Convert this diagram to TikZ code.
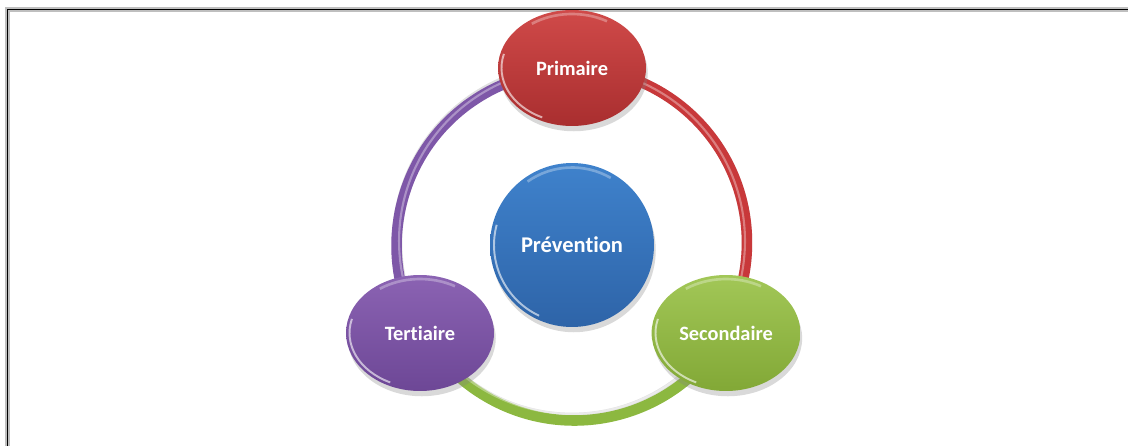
\documentclass[tikz,border=0pt]{standalone}
\usepackage{fontspec}
\setmainfont{Carlito}[Ligatures=NoCommon]
\usetikzlibrary{shapes.geometric,shadows,backgrounds,calc}

\definecolor{primtop}{HTML}{D04A49}
\definecolor{primbot}{HTML}{A92E2F}
\definecolor{sectop}{HTML}{A2C757}
\definecolor{secbot}{HTML}{82A836}
\definecolor{tertop}{HTML}{8B63B3}
\definecolor{terbot}{HTML}{6D4796}
\definecolor{prevtop}{HTML}{3F82CC}
\definecolor{prevbot}{HTML}{2E64A8}
\definecolor{ringred}{HTML}{C8383A}
\definecolor{ringgreen}{HTML}{8CB840}
\definecolor{ringpurple}{HTML}{7E57A8}

\begin{document}
\begin{tikzpicture}[x=0.02cm, y=0.02cm,
    phase/.style={ellipse, minimum width=2.96cm, minimum height=2.32cm,
      text=white, font=\bfseries\fontsize{11.6}{13}\selectfont,
      drop shadow={shadow xshift=1pt, shadow yshift=-3pt, opacity=.3},
      path picture={
        \draw[white, opacity=.6, line width=1.1pt]
          ($(path picture bounding box.center)+(165:1.41cm and 1.09cm)$)
          arc[start angle=165, end angle=245, x radius=1.41cm, y radius=1.09cm];
        \draw[white, opacity=.3, line width=1.5pt]
          ($(path picture bounding box.center)+(60:1.4cm and 1.08cm)$)
          arc[start angle=60, end angle=125, x radius=1.4cm, y radius=1.08cm];
      }},
    core/.style={circle, minimum size=3.28cm,
      text=white, font=\bfseries\fontsize{12.8}{15}\selectfont,
      drop shadow={shadow xshift=1pt, shadow yshift=-3pt, opacity=.3},
      path picture={
        \draw[white, opacity=.6, line width=1.1pt]
          ($(path picture bounding box.center)+(165:1.56cm)$)
          arc[start angle=165, end angle=245, radius=1.56cm];
        \draw[white, opacity=.3, line width=1.5pt]
          ($(path picture bounding box.center)+(60:1.55cm)$)
          arc[start angle=60, end angle=125, radius=1.55cm];
      }},
    ring/.style={line width=6pt},
    gloss/.style={line width=1.2pt, white, opacity=.35}]
  \useasboundingbox (0,0) rectangle (1128,446);

  % frame
  \draw[gray!50, line width=2.4pt] (7.5,0) -- (7.5,436.5) -- (1128,436.5);
  \draw[black, line width=1.1pt] (7.5,0) -- (7.5,436.5) -- (1128,436.5);

  % stages
  \node[phase, top color=primtop, bottom color=primbot] (prim) at (572,378) {Primaire};
  \node[phase, top color=sectop, bottom color=secbot] (sec) at (726,113) {Secondaire};
  \node[phase, top color=tertop, bottom color=terbot] (ter) at (420,113) {Tertiaire};
  \node[core, top color=prevtop, bottom color=prevbot] (prev) at (572,201) {Prévention};

  % ring
  \begin{scope}[on background layer]
    \draw[ring, black, opacity=.12, yshift=-3pt] (prim.center) arc[start angle=90, end angle=-270, radius=3.5cm];
    \draw[ring, ringred] (prim.center) arc[start angle=90, end angle=-30, radius=3.5cm];
    \draw[ring, ringgreen] (sec.center) arc[start angle=-30, end angle=-150, radius=3.5cm];
    \draw[ring, ringpurple] (ter.center) arc[start angle=210, end angle=90, radius=3.5cm];
    \draw[gloss] (prim.center) arc[start angle=90, end angle=-270, radius=3.46cm];
  \end{scope}
\end{tikzpicture}
\end{document}
